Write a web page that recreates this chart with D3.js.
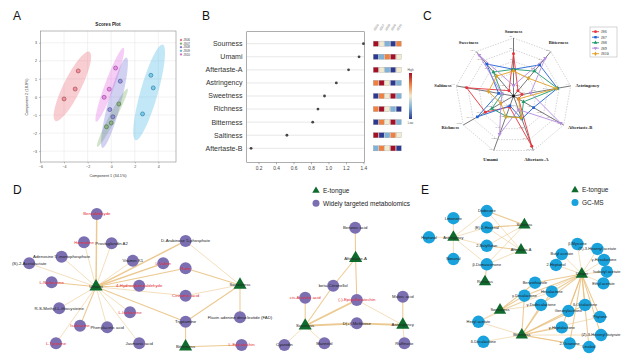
<!DOCTYPE html>
<html>
<head>
<meta charset="utf-8">
<script src="https://cdn.jsdelivr.net/npm/d3@7"></script>
<style>
  body { margin: 0; background: #fff; }
  svg { display: block; font-family: "Liberation Sans", Arial, sans-serif; }
</style>
</head>
<body>
<div id="chart"></div>
<script>
// ---------- data: A (scores plot) ----------
const groups = ["JS06", "JS07", "JS08", "JS09", "JS10"];
const scoreX = [[-2.8, -3.06, -4.0], [0.65, 0, -0.4], [0.77, -0.12, 0.14], [3.37, 3.57, 2.66], [0.37, -0.17, -0.6]];
const scoreY = [[1.44, 0.44, -0.11], [-0.39, -1.44, -1.65], [0.87, -0.7, -1.1], [1.2, 0.5, -0.94], [1.6, 0.43, -0.02]];
// ellipse: major axis end points (x1, y1, x2, y2) and minor / major ratio
const ellipseEnds = [[-4.74, -1.33, -1.85, 2.5], [-1.19, -2.76, 1.39, 0.46], [-0.74, -2.82, 1.3, 2.18], [2.07, -2.39, 4.37, 2.9], [-1.28, -1.37, 1.05, 2.72]];
const ellipseRatio = [0.23, 0.107, 0.135, 0.175, 0.12];
const scoreXTicks = [-6, -4, -2, 0, 2, 4];
const scoreYTicks = [-3, -2, -1, 0, 1, 2, 3];

// ---------- data: B (VIP + heatmap) ----------
const attrs = ["Sourness", "Umami", "Aftertaste-A", "Astringency", "Sweetness", "Richness", "Bitterness", "Saltiness", "Aftertaste-B"];
const vip = [1.40, 1.35, 1.23, 1.09, 0.955, 0.88, 0.82, 0.525, 0.115];
const vipTicks = [0.2, 0.4, 0.6, 0.8, 1.0, 1.2, 1.4];
const heat = [
  [2, 0, -1, -2, 1],
  [-2, -1, 1, 2, 0],
  [2, 0, -1, -2, 0],
  [1, 2, 0, -2, -1],
  [-2, 1, 0, 2, -1],
  [1, 2, 0, -1, -2],
  [-2, 1, 0, 2, -1],
  [2, -2, -1, 1, 0],
  [-1, 1, 0, 2, -2]
];

// ---------- data: C (radar) ----------
const radarAxes = ["Sourness", "Bitterness", "Astringency", "Aftertaste-B", "Aftertaste-A", "Umami", "Richness", "Saltiness", "Sweetness"];
const radarSeries = ["JS6", "JS7", "JS8", "JS9", "JS10"];
const radarVals = [
  [0.73, 0.12, 0.15, 0.10, 0.92, 0.20, 0.56, 0.82, 0.12],
  [0.46, 0.70, 0.77, 0.40, 0.42, 0.18, 0.72, 0.26, 0.72],
  [0.46, 0.56, 0.77, 0.20, 0.40, 0.37, 0.43, 0.20, 0.54],
  [0.18, 0.85, 0.30, 0.94, 0.25, 0.70, 0.25, 0.20, 0.92],
  [0.43, 0.40, 0.75, 0.10, 0.40, 0.38, 0.25, 0.44, 0.45]
];
const radarMin = [0, -0.1, -0.2, -0.4, -0.3, 2, -0.3, -22, -1.1];
const radarMax = [25, 0.9, 1.3, -0.14, -0.16, 7.6, -0.09, -17, -0.7];

// ---------- data: D (E-tongue / metabolomics network), layout units 0-100 ----------
const dNodes = [
  ["Umami", 24, 54.2, "t", 0], ["Sweetness", 60, 53.1, "t", 0], ["Bitterness", 46.4, 91.7, "t", 0],
  ["Aftertaste-A", 88.9, 36.4, "t", 0], ["Sourness", 76.3, 78.6, "t", 0], ["Astringency", 100.7, 78.1, "t", 0],
  ["Benzaldehyde", 24.2, 8.8, "m", 1], ["Harmaline", 21, 26.4, "m", 1], ["Prostaglandin A2", 27.9, 27.1, "m", 0],
  ["Adenosine 5'-monophosphate", 15.4, 35.4, "m", 0], ["(S)-2-Acetolactate", 7.3, 39.6, "m", 0],
  ["L-Norleucine", 12.9, 51.4, "m", 1], ["Vitamin K1", 33.2, 37.9, "m", 0], ["L-Valine", 40.8, 39.6, "m", 1],
  ["D-Arabinose 5-phosphate", 46.4, 25.6, "m", 0], ["Rutin", 46.4, 42.7, "m", 1],
  ["4-Hydroxybenzaldehyde", 34.8, 53.6, "m", 1], ["Cinnamic acid", 46.4, 59.8, "m", 1],
  ["R-S-Methyl-L-thiocysteine", 14.8, 67.7, "m", 0], ["L-Isoleucine", 32.5, 70.2, "m", 1],
  ["Isoleucine", 20, 78.6, "m", 1], ["Phenylacetic acid", 26.8, 79.6, "m", 0], ["Tryptamine", 46.4, 76.1, "m", 0],
  ["L-Tyrosine", 14, 89.6, "m", 1], ["Jasmonic acid", 34.8, 89.6, "m", 0],
  ["Flavin adenine dinucleotide (FAD)", 60, 73.3, "m", 0], ["L-Epicatechin", 60.4, 90.6, "m", 1],
  ["Benzoic acid", 88.8, 17.3, "m", 0], ["beta-Citronellol", 83.3, 53.6, "m", 0],
  ["cis-Aconitic acid", 76.3, 61.1, "m", 1], ["(-)-Epigallocatechin", 89.2, 62.5, "m", 1],
  ["D(+)-Melibiose", 89.2, 77.1, "m", 0], ["Maleic acid", 100.7, 60.4, "m", 0],
  ["Raffinose", 101.1, 89.6, "m", 0], ["Cyanidin", 71.1, 90.6, "m", 0], ["Mannitol", 81.1, 89.6, "m", 0]
];
const dEdges = [
  ["Umami", "Benzaldehyde", 2], ["Umami", "Harmaline", 1], ["Umami", "Prostaglandin A2", 1],
  ["Umami", "Adenosine 5'-monophosphate", 1], ["Umami", "(S)-2-Acetolactate", 1], ["Umami", "L-Norleucine", 1.5],
  ["Umami", "Vitamin K1", 1], ["Umami", "L-Valine", 2], ["Umami", "D-Arabinose 5-phosphate", 2],
  ["Umami", "Rutin", 1.5], ["Umami", "4-Hydroxybenzaldehyde", 1.5], ["Umami", "Cinnamic acid", 1],
  ["Umami", "R-S-Methyl-L-thiocysteine", 1], ["Umami", "L-Isoleucine", 1], ["Umami", "Isoleucine", 1.5],
  ["Umami", "Phenylacetic acid", 1], ["Umami", "Tryptamine", 1.5], ["Umami", "L-Tyrosine", 1],
  ["Umami", "Jasmonic acid", 1],
  ["Sweetness", "D-Arabinose 5-phosphate", 1], ["Sweetness", "Rutin", 1.5], ["Sweetness", "Cinnamic acid", 1],
  ["Sweetness", "Tryptamine", 1.5], ["Sweetness", "Flavin adenine dinucleotide (FAD)", 1.5],
  ["Bitterness", "Tryptamine", 1.5], ["Bitterness", "L-Epicatechin", 1.5],
  ["Aftertaste-A", "Benzoic acid", 1.5], ["Aftertaste-A", "beta-Citronellol", 1.5], ["Aftertaste-A", "(-)-Epigallocatechin", 1.5],
  ["Sourness", "beta-Citronellol", 1.5], ["Sourness", "cis-Aconitic acid", 1.5], ["Sourness", "(-)-Epigallocatechin", 2.5],
  ["Sourness", "D(+)-Melibiose", 2.5], ["Sourness", "Cyanidin", 1], ["Sourness", "Mannitol", 1],
  ["Astringency", "(-)-Epigallocatechin", 1], ["Astringency", "D(+)-Melibiose", 2.5],
  ["Astringency", "Maleic acid", 1.5], ["Astringency", "Raffinose", 1]
];

// ---------- data: E (E-tongue / GC-MS network), layout units 0-100 ----------
const eNodes = [
  ["Astringency", 16.7, 23.3, "t"], ["Saltiness", 52.2, 15.6, "t"], ["Aftertaste-A", 50.5, 31.3, "t"],
  ["Richness", 32.5, 51.1, "t"], ["Umami", 80.9, 46.3, "t"], ["Sweetness", 40, 68.8, "t"], ["Bitterness", 50.9, 84.4, "t"],
  ["Heptanal", 4.5, 23.3, "m"], ["Limonene", 16.7, 11.4, "m"], ["Nonanal", 16.7, 36.9, "m"],
  ["Dodecane", 33.4, 6.9, "m"], ["(E)-2-Hexenal", 33.4, 17.1, "m"], ["2-Butylfuran", 33.4, 28.6, "m"],
  ["β-Damascenone", 33.4, 40.2, "m"], ["β-Myrcene", 78.7, 27.5, "m"], ["(Z)-3-Hexenyl acetate", 88.7, 30.6, "m"],
  ["Butyl acetate", 70.9, 33.8, "m"], ["γ-Hexalactone", 92, 37.5, "m"], ["2-Heptanol", 68, 40.6, "m"],
  ["Isobutyl acetate", 93.4, 44.8, "m"], ["Ethyl acetate", 91.7, 52.1, "m"], ["Benzothiazole", 57.5, 51.7, "m"],
  ["γ-Decalactone", 52.2, 59.8, "m"], ["Hexalactone", 65.9, 57.3, "m"], ["γ-Dodecalactone", 60.5, 65.6, "m"],
  ["δ-Octalactone", 82.5, 65.6, "m"], ["Geranylacetone", 74.2, 69.4, "m"], ["Hexyl acetate", 29.2, 76.1, "m"],
  ["Phytone", 90, 73.1, "m"], ["γ-Heptalactone", 70.9, 79.6, "m"], ["(Z)-3-Hexenyl butyrate", 90.5, 84.4, "m"],
  ["δ-Decalactone", 31.7, 88.6, "m"], ["2-Octanone", 74.8, 89.6, "m"], ["Linalool", 84.5, 91.9, "m"]
];
const eEdges = [
  ["Astringency", "Heptanal", 1], ["Astringency", "Limonene", 1], ["Astringency", "Nonanal", 1],
  ["Astringency", "Dodecane", 1], ["Astringency", "(E)-2-Hexenal", 1], ["Astringency", "2-Butylfuran", 1], ["Astringency", "β-Damascenone", 1],
  ["Saltiness", "Dodecane", 1.5], ["Saltiness", "(E)-2-Hexenal", 1.5], ["Saltiness", "2-Butylfuran", 1], ["Saltiness", "β-Damascenone", 1],
  ["Aftertaste-A", "Dodecane", 1], ["Aftertaste-A", "(E)-2-Hexenal", 1], ["Aftertaste-A", "2-Butylfuran", 1.5], ["Aftertaste-A", "β-Damascenone", 1],
  ["Richness", "β-Damascenone", 1.5],
  ["Umami", "β-Myrcene", 1], ["Umami", "(Z)-3-Hexenyl acetate", 1], ["Umami", "Butyl acetate", 1],
  ["Umami", "γ-Hexalactone", 1], ["Umami", "2-Heptanol", 1], ["Umami", "Isobutyl acetate", 1], ["Umami", "Ethyl acetate", 1],
  ["Umami", "Benzothiazole", 1.5], ["Umami", "γ-Decalactone", 1.5], ["Umami", "Hexalactone", 1.5],
  ["Umami", "γ-Dodecalactone", 1.5], ["Umami", "δ-Octalactone", 1.5], ["Umami", "Geranylacetone", 1.5],
  ["Umami", "Phytone", 1.5], ["Umami", "γ-Heptalactone", 1.5], ["Umami", "(Z)-3-Hexenyl butyrate", 1.5],
  ["Umami", "2-Octanone", 1.5], ["Umami", "Linalool", 1.5], ["Umami", "Hexyl acetate", 1],
  ["Sweetness", "Benzothiazole", 1.5], ["Sweetness", "γ-Decalactone", 1.5], ["Sweetness", "Hexalactone", 1],
  ["Sweetness", "γ-Dodecalactone", 1], ["Sweetness", "Hexyl acetate", 1],
  ["Bitterness", "γ-Decalactone", 1.5], ["Bitterness", "Hexalactone", 1.5], ["Bitterness", "γ-Dodecalactone", 1.5],
  ["Bitterness", "Geranylacetone", 1.5], ["Bitterness", "δ-Octalactone", 1.5], ["Bitterness", "Phytone", 1],
  ["Bitterness", "γ-Heptalactone", 1.5], ["Bitterness", "(Z)-3-Hexenyl butyrate", 1], ["Bitterness", "2-Octanone", 1.5],
  ["Bitterness", "Hexyl acetate", 1], ["Bitterness", "δ-Decalactone", 1], ["Bitterness", "Linalool", 1]
];

// ---------- styles ----------
const groupColors = ["#ee6a78", "#74ad5c", "#7373d6", "#45b9e8", "#e066e0"];
const radarColors = ["#e8323a", "#1f63d6", "#1d9a6c", "#b68be0", "#e0a020"];
const heatColor = d3.scaleLinear().domain([-2, -1, 0, 1, 2])
  .range(["#2b3990", "#7fb2d9", "#f3ebd0", "#f08040", "#a50f26"]);
const edgeColor = "#e9bf7c";
const tongueGreen = "#0f6b2d";

const svg = d3.select("#chart").append("svg")
  .attr("width", 631).attr("height", 360);
svg.append("rect").attr("width", 631).attr("height", 360).attr("fill", "#fff");

// panel letters
[["A", 13, 20], ["B", 202, 20], ["C", 423, 20], ["D", 13, 194], ["E", 421, 194]].forEach(([t, x, y]) => {
  svg.append("text").attr("x", x).attr("y", y).attr("font-size", 12).attr("fill", "#111").text(t);
});

// ================= A: scores plot =================
const xA = d3.scaleLinear().domain([-6, 5.5]).range([40.5, 176]);
const yA = d3.scaleLinear().domain([-3.6, 3.65]).range([162, 31]);
const gA = svg.append("g");

gA.selectAll(".gx").data(scoreXTicks).join("line")
  .attr("x1", d => xA(d)).attr("x2", d => xA(d)).attr("y1", yA.range()[0]).attr("y2", yA.range()[1])
  .attr("stroke", "#e4e4e4").attr("stroke-width", 0.5);
gA.selectAll(".gy").data(scoreYTicks).join("line")
  .attr("x1", xA.range()[0]).attr("x2", xA.range()[1]).attr("y1", d => yA(d)).attr("y2", d => yA(d))
  .attr("stroke", "#e4e4e4").attr("stroke-width", 0.5);

groups.forEach((g, i) => {
  const [x1, y1, x2, y2] = ellipseEnds[i];
  const p1 = [xA(x1), yA(y1)], p2 = [xA(x2), yA(y2)];
  const half = Math.hypot(p2[0] - p1[0], p2[1] - p1[1]) / 2;
  const ang = Math.atan2(p2[1] - p1[1], p2[0] - p1[0]) * 180 / Math.PI;
  gA.append("ellipse")
    .attr("transform", `translate(${(p1[0] + p2[0]) / 2},${(p1[1] + p2[1]) / 2}) rotate(${ang})`)
    .attr("rx", half).attr("ry", half * ellipseRatio[i])
    .attr("fill", groupColors[i]).attr("fill-opacity", 0.33);
});
groups.forEach((g, i) => {
  gA.selectAll(null).data(scoreX[i]).join("circle")
    .attr("cx", d => xA(d)).attr("cy", (d, j) => yA(scoreY[i][j])).attr("r", 2)
    .attr("fill", groupColors[i]).attr("fill-opacity", 0.6)
    .attr("stroke", d3.color(groupColors[i]).darker(1.3)).attr("stroke-width", 0.6);
});

gA.append("rect").attr("x", 40.5).attr("y", 31).attr("width", 135.5).attr("height", 131)
  .attr("fill", "none").attr("stroke", "#8a8a8a").attr("stroke-width", 0.6);

const axA = gA.append("g").attr("transform", "translate(0,162)")
  .call(d3.axisBottom(xA).tickValues(scoreXTicks).tickSize(1.5).tickPadding(1.5));
const ayA = gA.append("g").attr("transform", "translate(40.5,0)")
  .call(d3.axisLeft(yA).tickValues(scoreYTicks).tickSize(1.5).tickPadding(2));
[axA, ayA].forEach(a => {
  a.select(".domain").remove();
  a.selectAll("line").attr("stroke", "#666").attr("stroke-width", 0.4);
  a.selectAll("text").attr("font-size", 3.6).attr("fill", "#444");
});
gA.append("text").attr("x", 108).attr("y", 25.5).attr("text-anchor", "middle")
  .attr("font-size", 4.6).attr("font-weight", "bold").attr("fill", "#222").text("Scores Plot");
gA.append("text").attr("x", 108).attr("y", 177).attr("text-anchor", "middle")
  .attr("font-size", 3.8).attr("fill", "#333").text("Component 1 (34.1%)");
gA.append("text").attr("transform", "translate(27.5,97) rotate(-90)").attr("text-anchor", "middle")
  .attr("font-size", 3.8).attr("fill", "#333").text("Component 2 (18.9%)");

const legA = gA.append("g").attr("transform", "translate(181,40)");
groups.forEach((g, i) => {
  legA.append("circle").attr("cx", 0).attr("cy", i * 3.6).attr("r", 0.9)
    .attr("fill", groupColors[i]).attr("stroke", d3.color(groupColors[i]).darker(1)).attr("stroke-width", 0.3);
  legA.append("text").attr("x", 2.2).attr("y", i * 3.6 + 1.1).attr("font-size", 3).attr("fill", "#444").text(g);
});

// ================= B: VIP dots + heatmap =================
const xB = d3.scaleLinear().domain([0.065, 1.41]).range([246.7, 364.3]);
const yB = d3.scalePoint().domain(attrs).range([43.7, 148.3]);
const gB = svg.append("g");

gB.selectAll(".gl").data(attrs).join("line")
  .attr("x1", xB.range()[0]).attr("x2", xB.range()[1]).attr("y1", d => yB(d)).attr("y2", d => yB(d))
  .attr("stroke", "#dcdcdc").attr("stroke-width", 0.7);
gB.append("rect").attr("x", 246.7).attr("y", 31.7).attr("width", 117.6).attr("height", 130.6)
  .attr("fill", "none").attr("stroke", "#777").attr("stroke-width", 0.6);
gB.selectAll(".dot").data(attrs).join("circle")
  .attr("cx", (d, i) => xB(vip[i])).attr("cy", d => yB(d)).attr("r", 1.4).attr("fill", "#444");
gB.selectAll(".lab").data(attrs).join("text")
  .attr("x", 242.5).attr("y", d => yB(d) + 2.4).attr("text-anchor", "end")
  .attr("font-size", 7).attr("fill", "#333").text(d => d);
const axB = gB.append("g").attr("transform", "translate(0,162.3)")
  .call(d3.axisBottom(xB).tickValues(vipTicks).tickFormat(d3.format(".1f")).tickSize(2).tickPadding(2.5));
axB.select(".domain").remove();
axB.selectAll("line").attr("stroke", "#666").attr("stroke-width", 0.5);
axB.selectAll("text").attr("font-size", 4.8).attr("fill", "#444");

const xH = d3.scaleBand().domain(groups).range([373.3, 401.3]).paddingInner(0.12);
attrs.forEach((a, i) => {
  gB.selectAll(null).data(heat[i]).join("rect")
    .attr("x", (d, j) => xH(groups[j])).attr("y", yB(a) - 2.6)
    .attr("width", xH.bandwidth()).attr("height", 5.2)
    .attr("fill", d => heatColor(d)).attr("stroke", "#999").attr("stroke-width", 0.3);
});
gB.selectAll(".hh").data(groups).join("text")
  .attr("transform", d => `translate(${xH(d) + xH.bandwidth() / 2 - 1},31) rotate(-55)`)
  .attr("font-size", 3.2).attr("fill", "#777").text(d => d);

const grad = svg.append("defs").append("linearGradient").attr("id", "hg")
  .attr("x1", 0).attr("y1", 0).attr("x2", 0).attr("y2", 1);
[2, 1, 0, -1, -2].forEach((v, i) => {
  grad.append("stop").attr("offset", i / 4).attr("stop-color", heatColor(v));
});
gB.append("rect").attr("x", 409).attr("y", 73).attr("width", 3).attr("height", 46).attr("fill", "url(#hg)");
gB.append("text").attr("x", 410.5).attr("y", 71).attr("text-anchor", "middle").attr("font-size", 3).attr("fill", "#555").text("High");
gB.append("text").attr("x", 410.5).attr("y", 123.5).attr("text-anchor", "middle").attr("font-size", 3).attr("fill", "#555").text("Low");

// ================= C: radar =================
const cx = 513.5, cy = 96, R = 58;
const rC = d3.scaleLinear().domain([0, 1]).range([0, R]);
const step = 2 * Math.PI / radarAxes.length;
const gC = svg.append("g").attr("transform", `translate(${cx},${cy})`)
  .style("font-family", '"Liberation Serif", "Times New Roman", serif');
const radial = d3.lineRadial().angle((d, i) => i * step).radius(d => rC(d)).curve(d3.curveLinearClosed);

const levels = [0.2, 0.4, 0.6, 0.8, 1.0];
levels.forEach(l => {
  gC.append("path").attr("d", radial(radarAxes.map(() => l)))
    .attr("fill", "none").attr("stroke", "#aaa").attr("stroke-width", 0.5).attr("stroke-dasharray", "1.5,1.2");
});
radarAxes.forEach((a, i) => {
  const ang = i * step;
  gC.append("line").attr("x1", 0).attr("y1", 0)
    .attr("x2", rC(1) * Math.sin(ang)).attr("y2", -rC(1) * Math.cos(ang))
    .attr("stroke", "#555").attr("stroke-width", 0.8);
  const ts = d3.scaleLinear().domain([0, 1]).range([radarMin[i], radarMax[i]]);
  levels.forEach(l => {
    gC.append("text")
      .attr("x", rC(l) * Math.sin(ang) - 1.5).attr("y", -rC(l) * Math.cos(ang) - 0.8)
      .attr("text-anchor", "end").attr("font-size", 2.6).attr("fill", "#666")
      .text(d3.format(".2~f")(ts(l)));
  });
});
const labelSpec = [["middle", 7], ["middle", 12], ["start", 5], ["start", 5], ["middle", 9], ["middle", 9], ["end", 5], ["end", 5], ["middle", 12]];
radarAxes.forEach((a, i) => {
  const ang = i * step, rr = R + labelSpec[i][1];
  gC.append("text").attr("x", rr * Math.sin(ang)).attr("y", -rr * Math.cos(ang) + 1.6)
    .attr("text-anchor", labelSpec[i][0]).attr("font-size", 4.6).attr("font-weight", "bold")
    .attr("fill", "#222").text(a);
});
const markers = [d3.symbolCircle, d3.symbolSquare, d3.symbolTriangle, d3.symbolTriangle, d3.symbolDiamond];
const markerRot = [0, 0, 0, 180, 0];
radarSeries.forEach((s, k) => {
  gC.append("path").attr("d", radial(radarVals[k]))
    .attr("fill", "none").attr("stroke", radarColors[k]).attr("stroke-width", 0.9);
  gC.selectAll(null).data(radarVals[k]).join("path")
    .attr("d", d3.symbol(markers[k], 7))
    .attr("transform", (d, i) => `translate(${rC(d) * Math.sin(i * step)},${-rC(d) * Math.cos(i * step)}) rotate(${markerRot[k]})`)
    .attr("fill", radarColors[k]);
});
gC.append("circle").attr("r", 1.5).attr("fill", "#111");

const legC = svg.append("g").attr("transform", "translate(590,27)")
  .style("font-family", '"Liberation Serif", "Times New Roman", serif');
legC.append("rect").attr("width", 27).attr("height", 30).attr("fill", "#fff").attr("stroke", "#aaa").attr("stroke-width", 0.5);
radarSeries.forEach((s, k) => {
  const y = 4.7 + k * 5.5;
  legC.append("line").attr("x1", 2).attr("x2", 9).attr("y1", y).attr("y2", y)
    .attr("stroke", radarColors[k]).attr("stroke-width", 0.9);
  legC.append("path").attr("d", d3.symbol(markers[k], 6))
    .attr("transform", `translate(5.5,${y}) rotate(${markerRot[k]})`).attr("fill", radarColors[k]);
  legC.append("text").attr("x", 11).attr("y", y + 1.4).attr("font-size", 4).attr("fill", "#222").text(s);
});

// ================= networks =================
function drawNetwork(nodes, edges, xS, yS, opts) {
  const g = svg.append("g");
  const pos = new Map(nodes.map(n => [n[0], [xS(n[1]), yS(n[2])]]));
  const wS = d3.scaleLinear().domain([1, 2.5]).range([0.6, 1.9]);
  g.selectAll(".e").data(edges).join("line")
    .attr("x1", d => pos.get(d[0])[0]).attr("y1", d => pos.get(d[0])[1])
    .attr("x2", d => pos.get(d[1])[0]).attr("y2", d => pos.get(d[1])[1])
    .attr("stroke", edgeColor).attr("stroke-opacity", 0.85).attr("stroke-width", d => wS(d[2]));
  const metab = nodes.filter(n => n[3] === "m");
  const tongue = nodes.filter(n => n[3] === "t");
  g.selectAll(".m").data(metab).join("circle")
    .attr("cx", d => xS(d[1])).attr("cy", d => yS(d[2])).attr("r", opts.r).attr("fill", opts.color);
  g.selectAll(".t").data(tongue).join("path")
    .attr("d", d3.symbol(d3.symbolTriangle, opts.tri))
    .attr("transform", d => `translate(${xS(d[1])},${yS(d[2])})`).attr("fill", tongueGreen);
  g.selectAll(".l").data(nodes).join("text")
    .attr("x", d => xS(d[1])).attr("y", d => yS(d[2]) + 1.4).attr("text-anchor", "middle")
    .attr("font-size", opts.fs).attr("fill", d => d[4] ? "#e5262e" : "#222").text(d => d[0]);
  return g;
}

const xD = d3.scaleLinear().domain([0, 100]).range([0, 400]);
const yD = d3.scaleLinear().domain([0, 100]).range([200, 360]);
drawNetwork(dNodes, dEdges, xD, yD, { r: 6, color: "#7b6fb2", tri: 75, fs: 4.3 });

const xE = d3.scaleLinear().domain([0, 100]).range([420, 620]);
const yE = yD;
drawNetwork(eNodes, eEdges, xE, yE, { r: 6.2, color: "#19a2dc", tri: 66, fs: 3.9 });

// legends
function legend(x, y, color, label2) {
  const g = svg.append("g").attr("transform", `translate(${x},${y})`);
  g.append("path").attr("d", d3.symbol(d3.symbolTriangle, 24)).attr("fill", tongueGreen);
  g.append("text").attr("x", 7).attr("y", 2.3).attr("font-size", 6.5).attr("fill", "#222").text("E-tongue");
  g.append("circle").attr("cy", 12.6).attr("r", 3.5).attr("fill", color);
  g.append("text").attr("x", 7).attr("y", 14.9).attr("font-size", 6.5).attr("fill", "#222").text(label2);
}
legend(316, 190.7, "#7b6fb2", "Widely targeted metabolomics");
legend(575, 190, "#19a2dc", "GC-MS");
</script>
</body>
</html>
